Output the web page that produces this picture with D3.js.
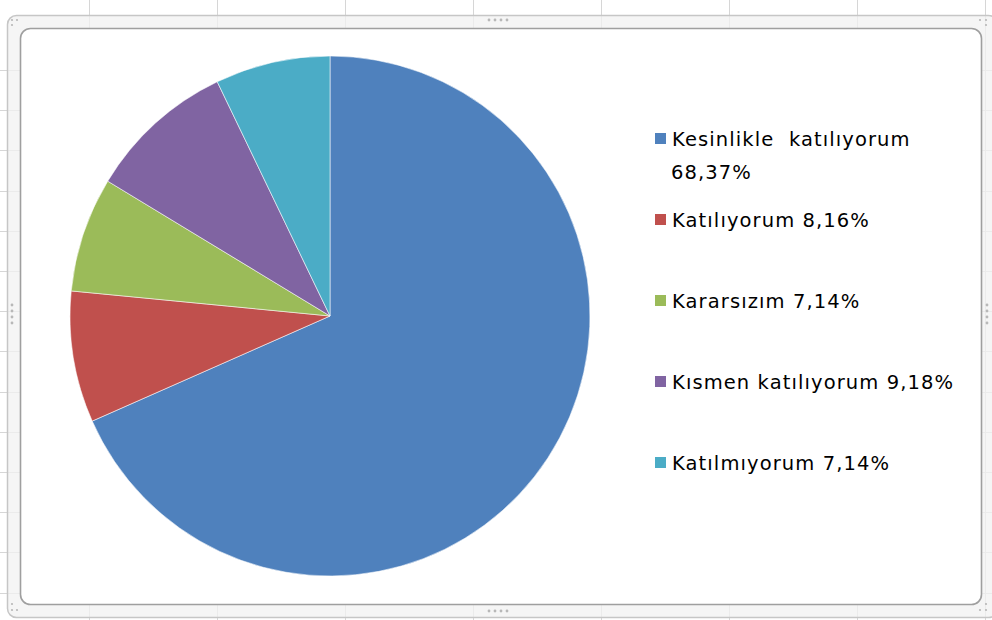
<!DOCTYPE html>
<html>
<head>
<meta charset="utf-8">
<script src="https://cdn.jsdelivr.net/npm/d3@7"></script>
<style>
  html, body { margin: 0; padding: 0; background: #fff; }
  svg { display: block; }
</style>
</head>
<body>
<svg id="chart" width="992" height="620"></svg>
<script>
const categories = ["Kesinlikle  katılıyorum", "Katılıyorum", "Kararsızım", "Kısmen katılıyorum", "Katılmıyorum"];
const values = [68.37, 8.16, 7.14, 9.18, 7.14];
const colors = ["#4f81bd", "#c0504d", "#9bbb59", "#8064a2", "#4bacc6"];

const svg = d3.select("#chart"),
      W = +svg.attr("width"),
      H = +svg.attr("height");

// spreadsheet grid behind the chart frame
const grid = svg.append("g").attr("stroke", "#d6d6d6").attr("stroke-width", 1);
d3.range(89, W, 128).forEach(x => {
  grid.append("line").attr("x1", x + 0.5).attr("x2", x + 0.5).attr("y1", 0).attr("y2", H);
});
d3.range(70, H, 40.2).forEach(y => {
  grid.append("line").attr("x1", 0).attr("x2", W).attr("y1", Math.round(y) + 0.5).attr("y2", Math.round(y) + 0.5);
});

// chart frame (outer selection border + inner white area)
svg.append("rect")
  .attr("x", 7.5).attr("y", 15.5).attr("width", 990).attr("height", 602)
  .attr("rx", 9)
  .attr("fill", "#f2f2f2").attr("fill-opacity", 0.75)
  .attr("stroke", "#c6c6c6").attr("stroke-width", 1.5);

svg.append("rect")
  .attr("x", 20.5).attr("y", 28.5).attr("width", 961).attr("height", 576)
  .attr("rx", 10)
  .attr("fill", "#fff")
  .attr("stroke", "#9f9f9f").attr("stroke-width", 1.6);

// grip dots on the frame
const dots = svg.append("g").attr("fill", "#b8b8b8");
[[489, 20], [495, 20], [501, 20], [507, 20], [489, 611], [495, 611], [501, 611], [507, 611]].forEach(d => {
  dots.append("circle").attr("cx", d[0]).attr("cy", d[1]).attr("r", 1.4);
});
[[12, 305], [12, 311], [12, 317], [12, 323], [987, 305], [987, 311], [987, 317], [987, 323]].forEach(d => {
  dots.append("circle").attr("cx", d[0]).attr("cy", d[1]).attr("r", 1.4);
});
[[12, 20], [17, 20], [12, 25], [12, 604], [12, 610], [17, 610], [980, 20], [986, 20], [986, 25], [986, 604], [980, 610], [986, 610]].forEach(d => {
  dots.append("circle").attr("cx", d[0]).attr("cy", d[1]).attr("r", 1.1);
});

// pie
const cx = 330, cy = 316, r = 260;
const pie = d3.pie().sort(null).value(d => d);
const arc = d3.arc().innerRadius(0).outerRadius(r);

svg.append("g")
  .attr("transform", `translate(${cx},${cy})`)
  .selectAll("path")
  .data(pie(values))
  .join("path")
  .attr("d", arc)
  .attr("fill", (d, i) => colors[i])
  .attr("stroke", "#ffffff")
  .attr("stroke-opacity", 0.55)
  .attr("stroke-width", 1);

// legend
const fmt = v => d3.format(".2f")(v).replace(".", ",") + "%";
const legend = svg.append("g")
  .attr("font-family", "Tahoma, 'DejaVu Sans', Verdana, sans-serif")
  .attr("font-size", 19.5)
  .attr("letter-spacing", 1.1)
  .attr("fill", "#000");

const lineH = 33, step = 81, maxW = 300;
let y = 139;
categories.forEach((c, i) => {
  legend.append("rect")
    .attr("x", 655).attr("y", y - 6).attr("width", 11).attr("height", 11)
    .attr("fill", colors[i]);
  const t = legend.append("text").attr("x", 672).attr("y", y + 7).attr("xml:space", "preserve");
  const words = [c, fmt(values[i])];
  // wrap label onto a second line when too wide
  t.text(words.join(" "));
  if (t.node().getComputedTextLength() > maxW) {
    t.text(words[0]);
    legend.append("text").attr("x", 671).attr("y", y + 7 + lineH).text(words[1]);
  }
  y += step;
});
</script>
</body>
</html>
